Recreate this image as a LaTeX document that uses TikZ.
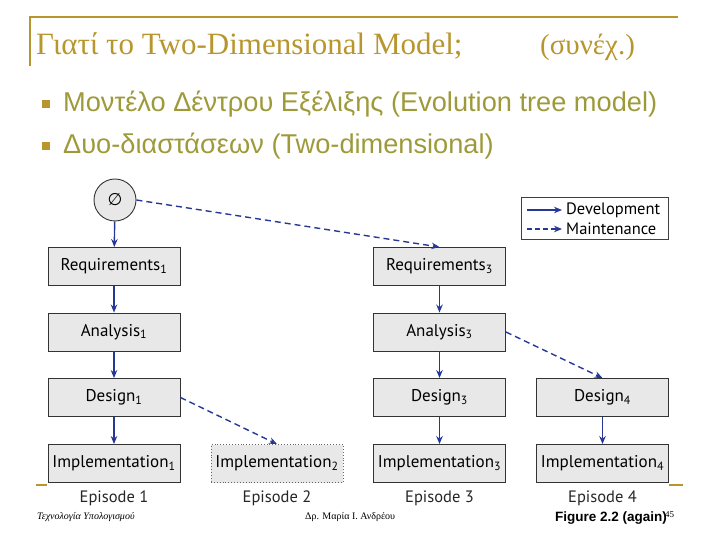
\documentclass[tikz,border=0pt]{standalone}
\usepackage{fontspec}
\setmainfont{Liberation Serif}
\newfontfamily\arialf{Liberation Sans}
\newfontfamily\figf{PT Sans}
\newfontfamily\dejavu{DejaVu Sans}
\usetikzlibrary{arrows.meta}
\definecolor{gold}{RGB}{184,150,46}
\definecolor{olive}{RGB}{158,154,58}
\definecolor{arrblue}{RGB}{38,56,150}
\definecolor{boxfill}{RGB}{232,232,232}
\tikzset{
  stagebox/.style={draw=black!80, line width=0.9pt, fill=boxfill, minimum width=132bp, minimum height=38bp, inner sep=0pt, font=\figf\fontsize{17bp}{19bp}\selectfont},
  ghostbox/.style={stagebox, draw=black!60, dotted, line width=0.8pt},
  devarrow/.style={draw=arrblue, line width=1.4pt, -{Stealth[length=8bp,width=6.5bp]}},
  mntarrow/.style={devarrow, dash pattern=on 6bp off 4bp},
  eplabel/.style={font=\figf\fontsize{16.5bp}{18bp}\selectfont, text=black!85},
  goldline/.style={draw=gold, line width=2pt},
}
\begin{document}
\begin{tikzpicture}[x=1bp,y=-1bp]
\useasboundingbox (0,0) rectangle (720,540);
% frame lines
\draw[goldline] (30,66) -- (30,17) -- (678,17);
\draw[goldline] (36,485) -- (47,485);
\draw[goldline] (669,485) -- (683,485);
% title
\node[anchor=base west, inner sep=0pt, text=gold, font=\fontsize{31bp}{34bp}\selectfont] (title) at (36,55) {Γιατί το Two-Dimensional Model;};
\node[anchor=base west, inner sep=0pt, text=gold, font=\fontsize{29bp}{32bp}\selectfont] (cont) at (540,55) {(συνέχ.)};
% bullets
\node[fill=gold, minimum size=8bp, inner sep=0pt] (b1) at (46,104) {};
\node[fill=gold, minimum size=8bp, inner sep=0pt] (b2) at (46,146) {};
\node[anchor=west, inner sep=0pt, text=olive, font=\arialf\fontsize{27.2bp}{29bp}\selectfont] (t1) at (63,104) {Μοντέλο Δέντρου Εξέλιξης (Evolution tree model)};
\node[anchor=west, inner sep=0pt, text=olive, font=\arialf\fontsize{27.2bp}{29bp}\selectfont] (t2) at (63,146) {Δυο-διαστάσεων (Two-dimensional)};
% start circle
\node[circle, draw=black!80, line width=0.9pt, fill=boxfill, minimum size=42bp, inner sep=0pt, font=\dejavu\fontsize{17bp}{19bp}\selectfont] (s) at (115,200) {∅};
% boxes
\node[stagebox] (r1) at (114,266.5) {Requirements\textsubscript{1}};
\node[stagebox] (a1) at (114,332) {Analysis\textsubscript{1}};
\node[stagebox] (d1) at (114,397.5) {Design\textsubscript{1}};
\node[stagebox] (i1) at (114,463.5) {Implementation\textsubscript{1}};
\node[ghostbox] (i2) at (277,463.5) {Implementation\textsubscript{2}};
\node[stagebox] (r3) at (439.5,266.5) {Requirements\textsubscript{3}};
\node[stagebox] (a3) at (439.5,332) {Analysis\textsubscript{3}};
\node[stagebox] (d3) at (439.5,397.5) {Design\textsubscript{3}};
\node[stagebox] (i3) at (439.5,463.5) {Implementation\textsubscript{3}};
\node[stagebox] (d4) at (602.5,397.5) {Design\textsubscript{4}};
\node[stagebox] (i4) at (602.5,463.5) {Implementation\textsubscript{4}};
% development arrows
\draw[devarrow] (s) -- (r1);
\draw[devarrow] (r1) -- (a1);
\draw[devarrow] (a1) -- (d1);
\draw[devarrow] (d1) -- (i1);
\draw[devarrow] (r3) -- (a3);
\draw[devarrow] (a3) -- (d3);
\draw[devarrow] (d3) -- (i3);
\draw[devarrow] (d4) -- (i4);
% maintenance arrows
\draw[mntarrow] (s.east) -- (r3.north);
\draw[mntarrow] (d1.east) -- (i2.north);
\draw[mntarrow] (a3.east) -- (d4.north);
% episodes
\node[eplabel] (e1) at (114,498) {Episode 1};
\node[eplabel] (e2) at (277,498) {Episode 2};
\node[eplabel] (e3) at (439.5,498) {Episode 3};
\node[eplabel] (e4) at (602.5,498) {Episode 4};
% legend
\node[draw=black!75, line width=0.8pt, minimum width=147bp, minimum height=42bp, inner sep=0pt] (leg) at (595,218.5) {};
\coordinate (l1a) at (527,210);
\coordinate (l1b) at (562,210);
\coordinate (l2a) at (527,229);
\coordinate (l2b) at (562,229);
\draw[devarrow, line width=1.1pt] (l1a) -- (l1b);
\draw[mntarrow, line width=1.1pt, dash pattern=on 5bp off 3bp] (l2a) -- (l2b);
\node[anchor=west, inner sep=0pt, font=\figf\fontsize{16.5bp}{18bp}\selectfont] (ld) at (566,210) {Development};
\node[anchor=west, inner sep=0pt, font=\figf\fontsize{16.5bp}{18bp}\selectfont] (lm) at (566,229) {Maintenance};
% footer
\node[anchor=west, inner sep=0pt, font=\itshape\fontsize{10bp}{12bp}\selectfont] (f1) at (37,517) {Τεχνολογία Υπολογισμού};
\node[anchor=west, inner sep=0pt, font=\fontsize{10bp}{12bp}\selectfont] (f2) at (305,517) {Δρ. Μαρία Ι. Ανδρέου};
\node[anchor=west, inner sep=0pt, font=\arialf\bfseries\fontsize{13.5bp}{15bp}\selectfont] (fig) at (555,518) {Figure 2.2 (again)};
\node[anchor=west, inner sep=0pt, font=\fontsize{9bp}{10bp}\selectfont] (pg) at (665,515) {45};
\end{tikzpicture}
\end{document}
